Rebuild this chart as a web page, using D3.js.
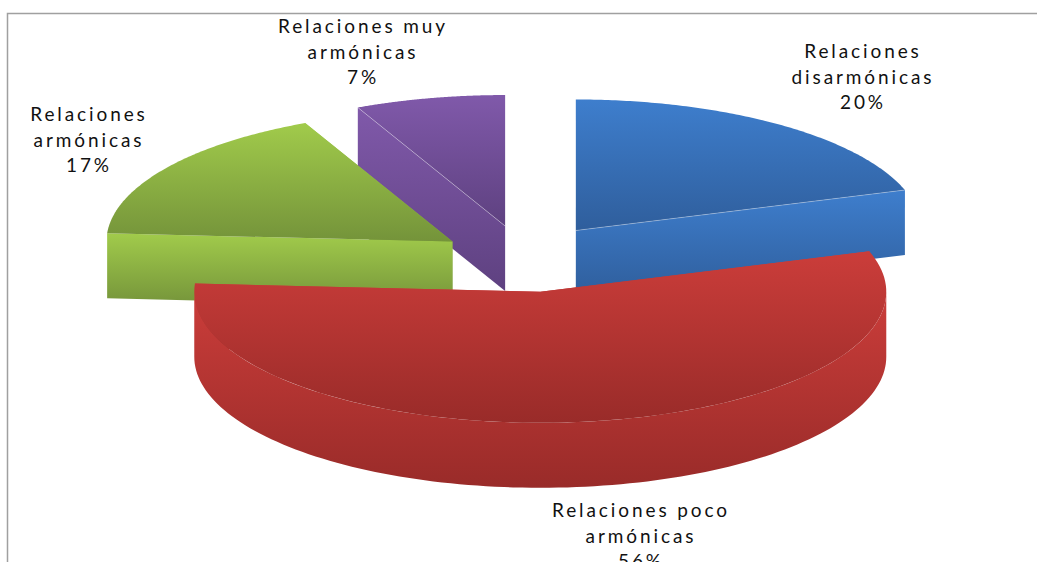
<!DOCTYPE html>
<html><head><meta charset="utf-8">
<script src="https://cdn.jsdelivr.net/npm/d3@7/dist/d3.min.js"></script>
<style>html,body{margin:0;padding:0;background:#fff;overflow:hidden}svg{display:block}
text{font-family:Lato,"Open Sans",sans-serif;font-size:19px;letter-spacing:2.9px;fill:#111;text-anchor:middle}</style>
</head><body><svg id="c" width="1037" height="562"></svg>
<script>
// Data
const categories = ["Relaciones disarmónicas","Relaciones poco armónicas","Relaciones armónicas","Relaciones muy armónicas"];
const values = [20,56,17,7];
const percentLabels = ["20%","56%","17%","7%"];
const labelLines = [["Relaciones","disarmónicas"],["Relaciones poco","armónicas"],["Relaciones","armónicas"],["Relaciones muy","armónicas"]];
const gradientStops = [["#3e7ecd","#2f5e9c"],["#cb3d3a","#992b29"],["#a1cb4b","#74933a"],["#8059aa","#5e4180"]];
const explosion = [0.25,0.26,0.25,0.25];
const nudges = [[0,-1],[4,0],[-1,2],[-1,0]];
// Layout
const cx=525, cy=258, rx=346, ry=131, depth=65;
const labelPos = [[863,58],[641,517],[89,121],[363,33]];

const svg=d3.select("#c"), defs=svg.append("defs");
const arcs=d3.pie().sort(null).value(d=>d)(values);
const line=d3.line();
const HALF=Math.PI/2;

gradientStops.forEach((s,i)=>{
  const g=defs.append("linearGradient").attr("id","g"+i).attr("x1",0).attr("y1",0).attr("x2",0).attr("y2",1);
  g.append("stop").attr("offset",0).attr("stop-color",s[0]);
  g.append("stop").attr("offset",1).attr("stop-color",s[1]);
});

const slices=arcs.map((a,i)=>{
  const mid=(a.startAngle+a.endAngle)/2;
  const ax=cx+explosion[i]*rx*Math.sin(mid)+nudges[i][0], ay=cy-explosion[i]*ry*Math.cos(mid)+nudges[i][1];
  const pt=t=>[ax+rx*Math.sin(t), ay-ry*Math.cos(t)];
  return {i,a,ax,ay,pt};
}).sort((p,q)=>p.ay-q.ay);

const down=p=>[p[0],p[1]+depth];
const samples=(t0,t1)=>d3.range(0,121).map(k=>t0+(t1-t0)*k/120);

// frame
svg.append("path").attr("d",line([[7.5,562],[7.5,13.5],[1037,13.5]]))
  .attr("fill","none").attr("stroke","#a0a0a0").attr("stroke-width",1.5);

slices.forEach(s=>{
  const f="url(#g"+s.i+")", g=svg.append("g");
  const apex=[s.ax,s.ay];
  // cut faces
  [s.a.endAngle,s.a.startAngle].forEach(t=>{
    const o=s.pt(t);
    if(Math.abs(o[0]-apex[0])<1) return;
    g.append("path").attr("d",line([o,apex,down(apex),down(o)])+"Z").attr("fill",f);
  });
  // outer rim
  const r0=Math.max(s.a.startAngle,HALF), r1=Math.min(s.a.endAngle,3*HALF);
  if(r1>r0){
    const top=samples(r0,r1).map(s.pt);
    g.append("path").attr("d",line(top.concat(top.slice().reverse().map(down)))+"Z").attr("fill",f);
  }
  // top face
  const arc=samples(s.a.startAngle,s.a.endAngle).map(s.pt);
  g.append("path").attr("d",line([apex].concat(arc))+"Z").attr("fill",f);
  // light seam along visible cut edges
  [s.a.startAngle,s.a.endAngle].forEach(t=>{
    const o=s.pt(t);
    const vis=(t>=s.a.endAngle&&s.i===0)||(t<=s.a.startAngle&&s.i===3);
    if(vis) g.append("path").attr("d",line([o,apex])).attr("stroke","rgba(255,255,255,.3)").attr("fill","none");
  });
});

// labels
categories.forEach((c,i)=>{
  const t=svg.append("text").attr("aria-label",c);
  labelLines[i].concat(percentLabels[i]).forEach((l,k)=>{
    t.append("tspan").attr("x",labelPos[i][0]).attr("y",labelPos[i][1]+k*25.6).text(l);
  });
});
</script></body></html>
